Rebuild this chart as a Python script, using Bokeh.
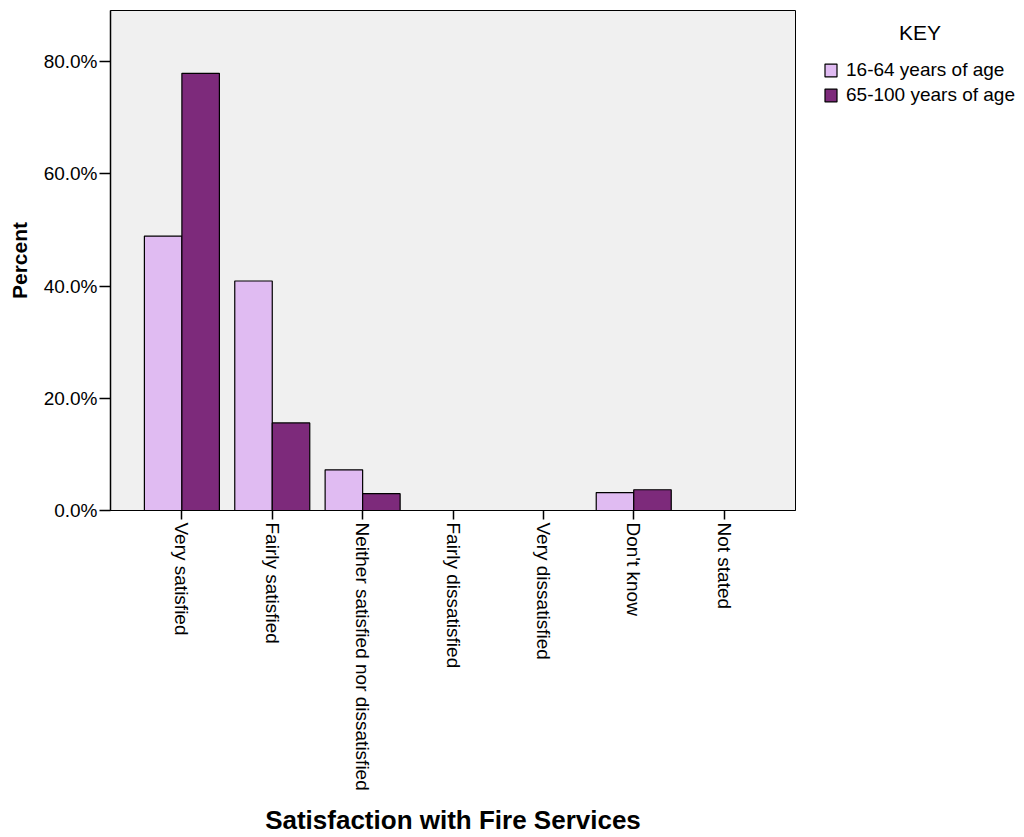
import math
from bokeh.plotting import figure
from bokeh.layouts import row
from bokeh.models import (ColumnDataSource, FixedTicker, PrintfTickFormatter,
                          Legend, LegendItem, Range1d)
from bokeh.transform import dodge
from bokeh.embed import file_html
from bokeh.resources import INLINE

categories = ["Very satisfied", "Fairly satisfied", "Neither satisfied nor dissatisfied",
              "Fairly dissatisfied", "Very dissatisfied", "Don't know", "Not stated"]
age_16_64 = [48.9, 40.9, 7.25, 0.0, 0.0, 3.2, 0.0]
age_65_100 = [77.9, 15.6, 3.0, 0.0, 0.0, 3.7, 0.0]
y_ticks = [0, 20, 40, 60, 80]
series_names = ["16-64 years of age", "65-100 years of age"]
legend_title = "KEY"

FONT = "Liberation Sans"
LIGHT = "#e0bbf2"
DARK = "#7d2a7b"

src = ColumnDataSource(dict(idx=list(range(len(categories))), cat=categories,
                            a=age_16_64, b=age_65_100))

p = figure(width=800, height=837, output_backend="svg", toolbar_location=None,
           x_range=Range1d(-0.79, len(categories) - 1 + 0.79), y_range=Range1d(0, 89.1),
           min_border_left=110, min_border_right=5, min_border_top=10, min_border_bottom=327)
p.background_fill_color = "#f0f0f0"
p.border_fill_color = "white"
p.outline_line_color = "black"
p.outline_line_width = 1
p.grid.visible = False

bw = 0.415
bar_style = dict(width=bw, line_color="black", line_width=1.2)
r1 = p.vbar(x=dodge("idx", -bw / 2, range=p.x_range), top="a", source=src,
            fill_color=LIGHT, **bar_style)
r2 = p.vbar(x=dodge("idx", bw / 2, range=p.x_range), top="b", source=src,
            fill_color=DARK, **bar_style)

# x axis
xa = p.xaxis[0]
xa.ticker = FixedTicker(ticks=list(range(len(categories))))
xa.major_label_overrides = {i: c for i, c in enumerate(categories)}
xa.major_label_orientation = -math.pi / 2
xa.major_label_text_font = FONT
xa.major_label_text_font_size = "19px"
xa.major_label_text_color = "black"
xa.major_tick_out = 9
xa.major_tick_in = 0
xa.minor_tick_line_color = None
xa.major_label_standoff = 3
xa.axis_line_color = "black"
xa.major_tick_line_color = "black"
xa.major_tick_line_width = 1.5
xa.axis_label = "Satisfaction with Fire Services"
xa.axis_label_text_font = FONT
xa.axis_label_text_font_style = "bold"
xa.axis_label_text_font_size = "26px"
xa.axis_label_text_color = "black"
xa.axis_label_standoff = 11

# y axis
ya = p.yaxis[0]
ya.ticker = FixedTicker(ticks=y_ticks)
ya.formatter = PrintfTickFormatter(format="%.1f%%")
ya.major_label_text_font = FONT
ya.major_label_text_font_size = "19px"
ya.major_label_text_color = "black"
ya.major_tick_out = 11
ya.major_tick_in = 0
ya.minor_tick_line_color = None
ya.major_label_standoff = 2
ya.axis_line_color = "black"
ya.axis_line_width = 1.5
ya.major_tick_line_color = "black"
ya.major_tick_line_width = 1.5
ya.axis_label = "Percent"
ya.axis_label_text_font = FONT
ya.axis_label_text_font_style = "bold"
ya.axis_label_text_font_size = "21px"
ya.axis_label_text_color = "black"
ya.axis_label_standoff = 10

# legend panel: a separate blank figure to the right (its frame aligns with p's frame)
q = figure(width=224, height=837, output_backend="svg", toolbar_location=None,
           x_range=Range1d(0, 1), y_range=Range1d(0, 1),
           x_axis_location=None, y_axis_location=None,
           min_border_left=0, min_border_right=0, min_border_top=10, min_border_bottom=327)
q.outline_line_color = None
q.grid.visible = False
q.background_fill_color = "white"
q.border_fill_color = "white"

# hidden proxies carrying the same styles for the legend swatches
k1 = q.vbar(x="idx", top="a", source=src, fill_color=LIGHT, visible=False, **bar_style)
k2 = q.vbar(x="idx", top="b", source=src, fill_color=DARK, visible=False, **bar_style)
k0 = q.vbar(x="idx", top="a", source=src, fill_alpha=0, visible=False,
            width=bw, line_alpha=0)

legend = Legend(items=[LegendItem(label=series_names[0], renderers=[k1]),
                       LegendItem(label=series_names[1], renderers=[k2])],
                location=(23, 404), padding=0, margin=0, spacing=3,
                glyph_width=15, glyph_height=16, label_height=16, label_standoff=8,
                label_text_font=FONT, label_text_font_size="19px", label_text_color="black",
                border_line_alpha=0, background_fill_alpha=0, inactive_fill_alpha=0)
q.add_layout(legend, "center")

key = Legend(items=[LegendItem(label=legend_title, renderers=[k0])],
             location=(99, 465), padding=0, margin=0,
             glyph_width=0, glyph_height=21, label_height=21, label_standoff=0,
             label_text_font=FONT, label_text_font_size="21px", label_text_color="black",
             border_line_alpha=0, background_fill_alpha=0, inactive_fill_alpha=0)
q.add_layout(key, "center")

layout = row(p, q, spacing=0)
open("out.html", "w").write(file_html(layout, INLINE))
